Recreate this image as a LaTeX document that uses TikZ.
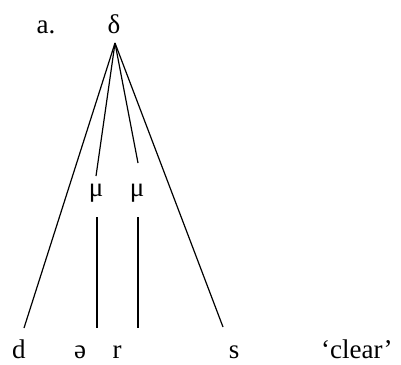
\documentclass[tikz,border=0pt]{standalone}
\usepackage{fontspec}
\setmainfont{Liberation Serif}
\begin{document}
\begin{tikzpicture}[x=1pt,y=-1pt,
  lbl/.style={inner sep=0pt,anchor=base,font=\fontsize{27}{31}\selectfont},
  branch/.style={line width=1.2pt}]
\useasboundingbox (0,0) rectangle (401,364);
\node[lbl] (a) at (46,33) {a.};
\node[lbl] (delta) at (114,33) {δ};
\coordinate (apex) at (115,43);
\node[lbl] (mu1) at (96,196) {μ};
\node[lbl] (mu2) at (137,196) {μ};
\coordinate (m1top) at (96,176);
\coordinate (m2top) at (138,163);
\coordinate (m1bot) at (97,217);
\coordinate (m2bot) at (138,217);
\coordinate (dend) at (24,328);
\coordinate (send) at (223,327);
\coordinate (v1end) at (97,328);
\coordinate (v2end) at (138,328);
\node[lbl] (d) at (19,358) {d};
\node[lbl] (schwa) at (80,358) {ə};
\node[lbl] (r) at (117,358) {r};
\node[lbl] (s) at (234,358) {s};
\node[lbl,anchor=base west] (gloss) at (321,358) {‘clear’};
\draw[branch] (apex) -- (dend);
\draw[branch] (apex) -- (m1top);
\draw[branch] (apex) -- (m2top);
\draw[branch] (apex) -- (send);
\draw[branch] (m1bot) -- (v1end);
\draw[branch] (m2bot) -- (v2end);
\end{tikzpicture}
\end{document}
